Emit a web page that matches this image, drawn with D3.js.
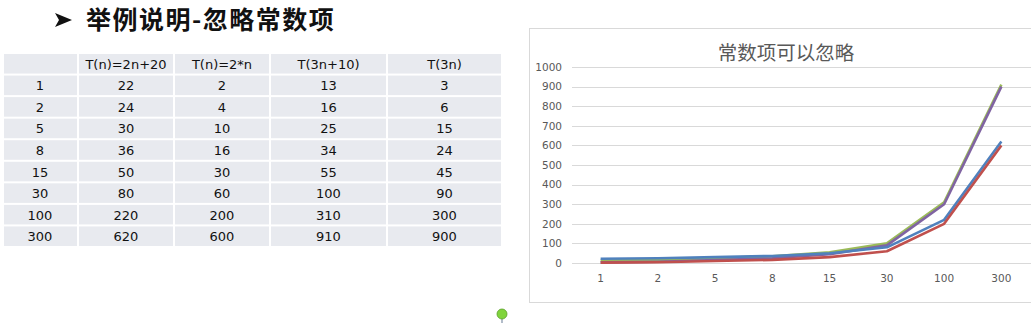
<!DOCTYPE html>
<html>
<head>
<meta charset="utf-8">
<title>忽略常数项</title>
<script src="https://cdn.jsdelivr.net/npm/d3@7"></script>
<style>
body { margin: 0; background: #fff; }
svg { display: block; }
.tbl text { font-family: "DejaVu Sans", Verdana, sans-serif; font-size: 13px; fill: #111; }
.axis text { font-family: "DejaVu Sans", Verdana, sans-serif; font-size: 10.5px; fill: #595959; }
.axis path, .axis line { display: none; }
.grid line { stroke: #d9d9d9; stroke-width: 1; }
</style>
</head>
<body>
<script>
// data
var categories = ["1", "2", "5", "8", "15", "30", "100", "300"];
var seriesNames = ["T(n)=2n+20", "T(n)=2*n", "T(3n+10)", "T(3n)"];
var s2n20 = [22, 24, 30, 36, 50, 80, 220, 620];
var s2n = [2, 4, 10, 16, 30, 60, 200, 600];
var s3n10 = [13, 16, 25, 34, 55, 100, 310, 910];
var s3n = [3, 6, 15, 24, 45, 90, 300, 900];
var yTicks = [0, 100, 200, 300, 400, 500, 600, 700, 800, 900, 1000];
var colors = ["#4F81BD", "#C0504D", "#9BBB59", "#8064A2"];

var W = 1031, H = 323;
var svg = d3.select("body").append("svg").attr("width", W).attr("height", H);

// slide heading with its arrow bullet
svg.append("path").attr("d", "M55,13 L72,20 L55,27 L59,20 Z").attr("fill", "#111");
svg.append("text").attr("x", 86).attr("y", 29)
	.style("font-family", "'Noto Sans CJK SC', sans-serif").style("font-size", "25px")
	.style("font-weight", "bold").style("letter-spacing", "1.5px").attr("fill", "#111").text("举例说明-忽略常数项");

// table
var allSeries = [s2n20, s2n, s3n10, s3n];
var colEdges = [3, 78, 174, 270, 387, 502];
var tbl = svg.append("g").attr("class", "tbl");
var rows = [[""].concat(seriesNames)].concat(categories.map(function(c, i) {
	return [c].concat(allSeries.map(function(s) { return s[i]; }));
}));
var rowStep = (247 - 53) / rows.length;
rows.forEach(function(r, ri) {
	var y0 = 53 + ri * rowStep;
	r.forEach(function(v, ci) {
		var x0 = colEdges[ci], x1 = colEdges[ci + 1];
		tbl.append("rect").attr("x", x0 + 1).attr("y", y0 + 1)
			.attr("width", x1 - x0 - 2).attr("height", rowStep - 2).attr("fill", "#e8eaef");
		tbl.append("text").attr("x", ci === 0 ? x0 + 37 : (x0 + x1) / 2).attr("y", y0 + rowStep / 2 + 5)
			.attr("text-anchor", "middle").text(v);
	});
});

// chart frame
svg.append("rect").attr("x", 529.5).attr("y", 28.5).attr("width", 520).attr("height", 274)
	.attr("fill", "#fff").attr("stroke", "#d9d9d9");
svg.append("text").attr("x", 786).attr("y", 60).attr("text-anchor", "middle")
	.style("font-family", "'Noto Sans CJK SC', sans-serif").style("font-size", "19.5px")
	.attr("fill", "#595959").text("常数项可以忽略");

var x = d3.scaleBand().domain(categories).range([572, 1030]);
var y = d3.scaleLinear().domain([0, 1000]).range([263, 67]);

svg.append("g").attr("class", "grid").selectAll("line").data(yTicks).enter().append("line")
	.attr("x1", 572).attr("x2", W).attr("y1", function(d) { return Math.round(y(d)) + 0.5; })
	.attr("y2", function(d) { return Math.round(y(d)) + 0.5; });

svg.append("g").attr("class", "axis").attr("transform", "translate(562,0)")
	.call(d3.axisLeft(y).tickValues(yTicks).tickFormat(d3.format("d")).tickSize(0).tickPadding(0));
svg.append("g").attr("class", "axis").attr("transform", "translate(0,272)")
	.call(d3.axisBottom(x).tickSize(0).tickPadding(3));

var line = d3.line().x(function(d, i) { return x(categories[i]) + x.bandwidth() / 2; })
	.y(function(d) { return y(d); });
// draw order: green, purple, blue, red
[2, 3, 0, 1].forEach(function(k) {
	svg.append("path").datum(allSeries[k]).attr("d", line)
		.attr("fill", "none").attr("stroke", colors[k]).attr("stroke-width", 2.6)
		.attr("stroke-linejoin", "round");
});

// slide marker
svg.append("line").attr("x1", 502).attr("x2", 502).attr("y1", 318).attr("y2", 323)
	.attr("stroke", "#7f8fa6").attr("stroke-width", 1.2);
svg.append("circle").attr("cx", 502).attr("cy", 314).attr("r", 5)
	.attr("fill", "#80d43c").attr("stroke", "#5aa02a").attr("stroke-width", 0.8);
</script>
</body>
</html>
